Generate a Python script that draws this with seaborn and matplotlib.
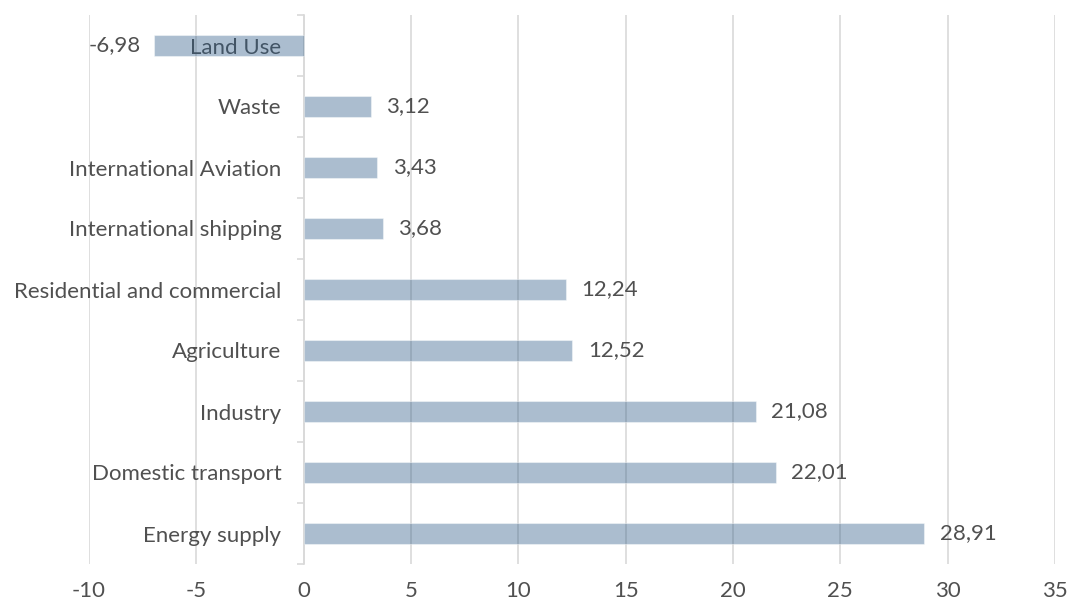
import matplotlib
matplotlib.use("Agg")
import matplotlib.pyplot as plt
import seaborn as sns
import pandas as pd
from matplotlib.ticker import FixedLocator

categories = ["Land Use", "Waste", "International Aviation", "International shipping",
              "Residential and commercial", "Agriculture", "Industry",
              "Domestic transport", "Energy supply"]
values = [-6.98, 3.12, 3.43, 3.68, 12.24, 12.52, 21.08, 22.01, 28.91]
x_ticks = [-10, -5, 0, 5, 10, 15, 20, 25, 30, 35]

sns.set_theme(style="white")
plt.rcParams['font.family'] = ['Lato', 'DejaVu Sans']

df = pd.DataFrame({"category": categories, "value": values})

FS = 16
TXT = "#505050"

fig = plt.figure(figsize=(10.73, 6.06), dpi=100)
ax = fig.add_axes([89/1073, 1-564/606, (1055-89)/1073, (564-15)/606])

sns.barplot(data=df, y="category", x="value", order=categories, orient="h",
            color="#2e5b87", saturation=1, alpha=0.4, width=0.33, ax=ax, zorder=3,
            edgecolor=(1, 1, 1, 0.6), linewidth=0.8)

ax.set_xlim(x_ticks[0], x_ticks[-1])
ax.set_ylim(len(categories) - 0.5, -0.5)
ax.xaxis.set_major_locator(FixedLocator(x_ticks))
ax.grid(axis="x", color="#d9d9d9", linewidth=1.2, zorder=0)
ax.set_axisbelow(True)

for s in ["top", "right", "bottom"]:
    ax.spines[s].set_visible(False)
ax.spines["left"].set_position(("data", 0))
ax.spines["left"].set_color("#d9d9d9")
ax.spines["left"].set_linewidth(1.2)
ax.spines["left"].set_zorder(1)

ax.set_yticks(range(len(categories)))
ax.set_yticklabels(categories)
ax.yaxis.set_minor_locator(FixedLocator([i - 0.5 for i in range(len(categories) + 1)]))
ax.tick_params(axis="y", which="major", length=0, pad=16, labelsize=FS, labelcolor=TXT)
ax.tick_params(axis="y", which="minor", length=5, width=1.2, color="#d9d9d9", left=True)
for lbl in ax.get_yticklabels():
    lbl.set_zorder(5)
ax.tick_params(axis="x", length=0, pad=12, labelsize=FS, labelcolor=TXT)
ax.set_xticklabels([str(t) for t in x_ticks])
ax.set_xlabel("")
ax.set_ylabel("")

for i, v in enumerate(values):
    txt = f"{v:.2f}".replace(".", ",")
    if v >= 0:
        ax.annotate(txt, xy=(v, i), xytext=(11, 0), textcoords="offset points",
                    ha="left", va="center", fontsize=FS, color=TXT, zorder=6)
    else:
        ax.annotate(txt, xy=(v, i), xytext=(-9, 0), textcoords="offset points",
                    ha="right", va="center", fontsize=FS, color=TXT, zorder=6)

fig.savefig("out.png", dpi=100)
